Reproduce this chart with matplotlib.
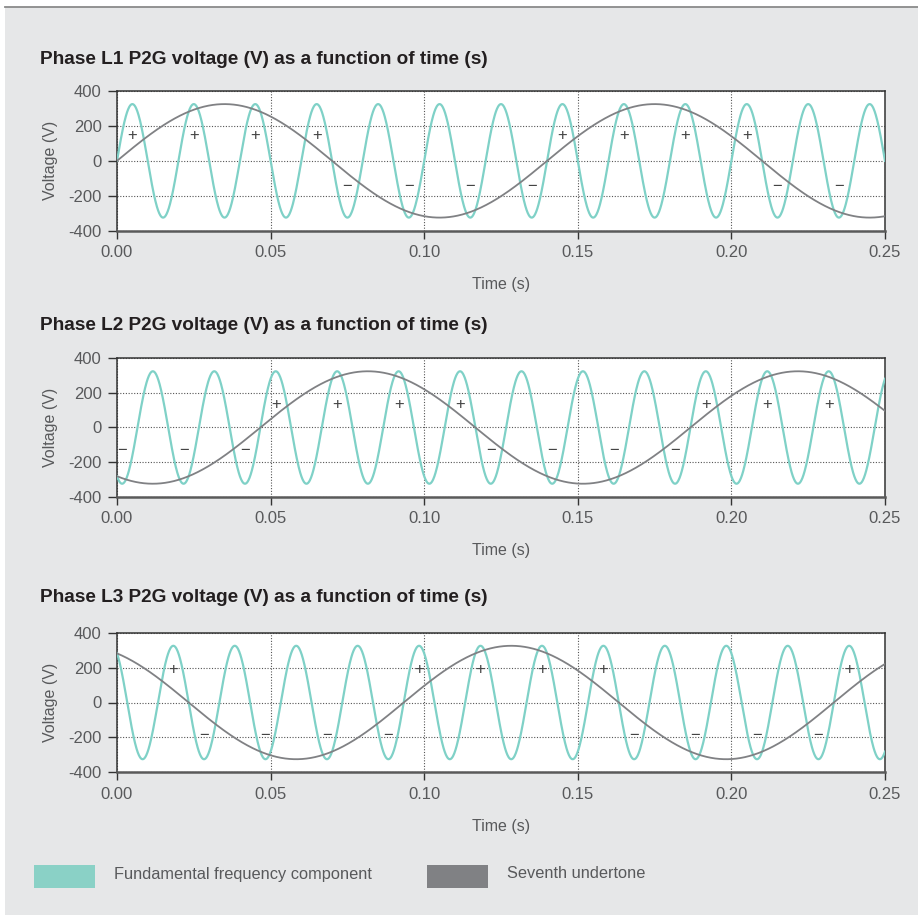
import numpy as np
import matplotlib.pyplot as plt
from matplotlib.patches import Rectangle

plt.rcParams['font.family'] = ['Liberation Sans', 'DejaVu Sans']

# data
phase_names = ['L1', 'L2', 'L3']
fund_freq = 50.0            # Hz
undertone_freq = 50.0 / 7   # seventh undertone
amplitude = 325             # V peak
phase_shift_deg = [0, -120, 120]

plus_times = [[0.005, 0.025, 0.045, 0.065, 0.145, 0.165, 0.185, 0.205],
              [0.0517, 0.0717, 0.0917, 0.1117, 0.1917, 0.2117, 0.2317],
              [0.0183, 0.0983, 0.1183, 0.1383, 0.1583, 0.2383]]
minus_times = [[0.075, 0.095, 0.115, 0.135, 0.215, 0.235],
               [0.0017, 0.0217, 0.0417, 0.1217, 0.1417, 0.1617, 0.1817],
               [0.0283, 0.0483, 0.0683, 0.0883, 0.1683, 0.1883, 0.2083, 0.2283]]
sign_level = [145, 135, 188]

x_ticks = [0.00, 0.05, 0.10, 0.15, 0.20, 0.25]
y_ticks = [-400, -200, 0, 200, 400]

c_fund = '#7fd1c7'
c_under = '#808184'
c_bg = '#e6e7e8'
c_text = '#58595b'

W, H = 918, 915
fig = plt.figure(figsize=(W / 100, H / 100), dpi=100)
fig.patch.set_facecolor('white')
fig.patches.append(Rectangle((5 / W, 0), 1, 1 - 7 / H, transform=fig.transFigure,
                             facecolor=c_bg, edgecolor='none', zorder=-10))
fig.lines.append(plt.Line2D([5 / W, 1], [1 - 7 / H, 1 - 7 / H], transform=fig.transFigure,
                            color='#8a8a8a', lw=1.3))

axes_top = [91, 358.3, 632.7]      # px
axes_bottom = [230.7, 496.7, 772.3]
title_y = [59, 325, 597]
xlabel_y = [285, 551, 826]

t = np.linspace(0, 0.25, 2000)

for i, name in enumerate(phase_names):
    top, bot = axes_top[i], axes_bottom[i]
    ax = fig.add_axes([117 / W, 1 - bot / H, (885 - 117) / W, (bot - top) / H])
    ax.set_facecolor('white')
    phi = np.deg2rad(phase_shift_deg[i])
    fund = amplitude * np.sin(2 * np.pi * fund_freq * t + phi)
    under = amplitude * np.sin(2 * np.pi * undertone_freq * t + phi)
    ax.plot(t, fund, color=c_fund, lw=1.6, zorder=3)
    ax.plot(t, under, color=c_under, lw=1.3, zorder=4)

    for tp in plus_times[i]:
        ax.text(tp, sign_level[i], '+', ha='center', va='center', fontsize=12,
                color='#444444', zorder=5)
    for tm in minus_times[i]:
        ax.text(tm, -sign_level[i], '\u2212', ha='center', va='center', fontsize=12,
                color='#444444', zorder=5)

    ax.set_xlim(0, 0.25)
    ax.set_ylim(-400, 400)
    ax.set_xticks(x_ticks)
    ax.set_xticklabels([f'{v:.2f}' for v in x_ticks])
    ax.set_yticks(y_ticks)
    ax.set_yticklabels([str(v) for v in y_ticks])
    ax.grid(True, linestyle=(0, (1, 1.5)), color='#555555', lw=0.8)
    ax.set_axisbelow(True)
    ax.tick_params(axis='both', direction='out', colors='#333333', labelcolor=c_text,
                   labelsize=12)
    ax.tick_params(axis='y', length=6.5, width=1, pad=4.5)
    ax.tick_params(axis='x', length=5.5, width=1, pad=5)
    for s in ['left', 'top', 'right']:
        ax.spines[s].set_color('#333333')
        ax.spines[s].set_linewidth(1.1)
    ax.spines['bottom'].set_color('#5a5a5a')
    ax.spines['bottom'].set_linewidth(1.8)

    ax.set_ylabel('Voltage (V)', fontsize=11.5, color=c_text)
    ax.yaxis.set_label_coords(-0.077, 0.5)

    fig.text(40 / W, 1 - title_y[i] / H,
             f'Phase {name} P2G voltage (V) as a function of time (s)',
             fontsize=13.7, fontweight='bold', color='#231f20', ha='left', va='center')
    fig.text(501 / W, 1 - xlabel_y[i] / H, 'Time (s)', fontsize=11.5, color=c_text,
             ha='center', va='center')

# legend
leg_items = [('Fundamental frequency component', '#8ad1c6', 34, 114),
             ('Seventh undertone', c_under, 427, 507)]
for label, col, px, tx in leg_items:
    fig.patches.append(Rectangle((px / W, 1 - 888 / H), 61 / W, 23 / H,
                                 transform=fig.transFigure, facecolor=col, edgecolor='none'))
    fig.text(tx / W, 1 - 874 / H, label, fontsize=11.8, color=c_text, ha='left', va='center')

fig.savefig('out.png', dpi=100)
